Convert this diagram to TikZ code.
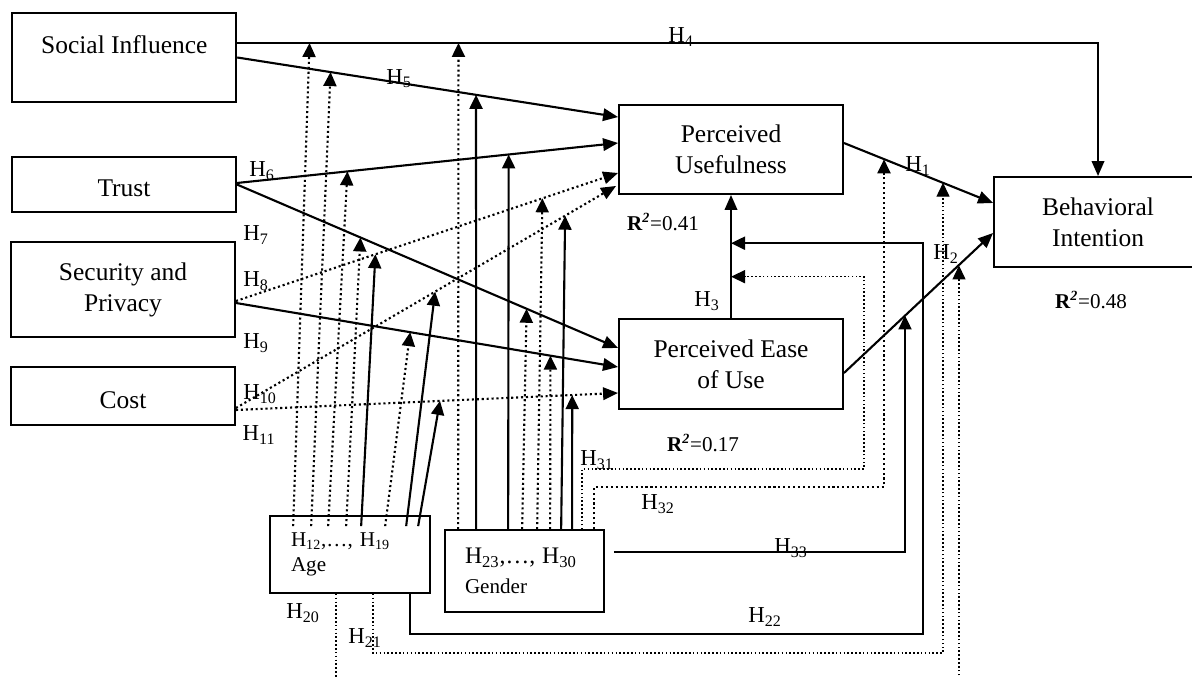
\documentclass[tikz,border=0pt]{standalone}
\usepackage{fontspec}
\setmainfont{Liberation Serif}
\usepackage{tikz}
\usetikzlibrary{
  arrows.meta,
  calc
}

\begin{document}
\begin{tikzpicture}[
  x=0.02cm, y=-0.02cm,
  font=\fontsize{14.5}{17.6}\selectfont,
  factor/.style={
    rectangle,
    draw=black,
    line width=1.1pt,
    minimum width=4.48cm,
    align=center,
    inner sep=0pt
  },
  modbox/.style={
    rectangle,
    draw=black,
    line width=1pt,
    align=left,
    inner xsep=0.42cm,
    inner ysep=0pt
  },
  rel/.style={
    -{Triangle[length=0.3cm, width=0.25cm]},
    line width=1.2pt
  },
  reldot/.style={
    rel,
    dash pattern=on 1.2pt off 1.6pt
  },
  mod/.style={
    -{Triangle[length=0.28cm, width=0.26cm]},
    line width=1.2pt
  },
  moddot/.style={
    mod,
    dash pattern=on 1.2pt off 1.6pt
  },
  thindot/.style={
    mod,
    line width=0.8pt,
    dash pattern=on 0.9pt off 1.3pt
  },
  hlabel/.style={font=\fontsize{13}{15}\selectfont, inner sep=0pt},
  rsq/.style={font=\fontsize{12}{14}\selectfont, inner sep=0pt}
]
\useasboundingbox (0,0) rectangle (1192,678);
\clip (0,0) rectangle (1192,678);

% Antecedents (left column)
\node[factor, minimum height=1.78cm, text height=0.82cm, text depth=0.96cm] (si) at (124.3,57.5) {Social Influence};
\node[factor, minimum height=1.1cm, text height=0.8cm, text depth=0.3cm] (trust) at (124,184.5) {Trust};
\node[factor, minimum height=1.9cm] (sp) at (123,289.5) {Security and\\Privacy};
\node[factor, minimum height=1.16cm, text height=0.84cm, text depth=0.32cm] (cost) at (123,396) {Cost};

% Mediators and outcome (outcome box runs past the right edge)
\node[factor, minimum height=1.78cm] (pu) at (731,149.5) {Perceived\\Usefulness};
\node[factor, minimum height=1.8cm] (peou) at (731,364) {Perceived Ease\\of Use};
\node[factor, minimum width=4.16cm, minimum height=1.8cm] (bi) at (1098,222) {Behavioral\\Intention};

% Moderators
\node[modbox, text width=2.36cm, minimum height=1.54cm, font=\fontsize{12}{14.2}\selectfont] (age) at (350,554.5) {H\textsubscript{12},\ldots, H\textsubscript{19}\\Age};
\node[modbox, text width=2.38cm, inner xsep=0.4cm, minimum height=1.64cm, font=\fontsize{12}{17}\selectfont] (gender) at (524.5,571) {{\fontsize{13.5}{17}\selectfont H\textsubscript{23},\ldots, H\textsubscript{30}}\\Gender};

% End points of the direct paths
\coordinate (h4s) at ($(si.east)+(0,-14.5)$);
\coordinate (h4c) at (bi.north |- h4s);
\coordinate (h5s) at (si.east);
\coordinate (h5e) at ($(pu.north west)+(0,13)$);
\coordinate (h6s) at ($(trust.east)+(0,-1.5)$);
\coordinate (h6e) at ($(pu.west)+(0,-6.5)$);
\coordinate (h7s) at (trust.east);
\coordinate (h7e) at ($(peou.west)+(0,-16)$);
\coordinate (h8s) at ($(sp.east)+(0,11.5)$);
\coordinate (h8e) at ($(pu.west)+(0,23.5)$);
\coordinate (h9s) at ($(sp.east)+(0,13.5)$);
\coordinate (h9e) at ($(peou.west)+(0,3)$);
\coordinate (h10s) at ($(cost.east)+(0,12)$);
\coordinate (h10e) at ($(pu.south west)+(-2,-9)$);
\coordinate (h11s) at ($(cost.east)+(0,14)$);
\coordinate (h11e) at ($(peou.west)+(0,29)$);
\coordinate (h1s) at ($(pu.east)+(0,-6.5)$);
\coordinate (h1e) at ($(bi.west)+(0,-19)$);
\coordinate (h2s) at ($(peou.east)+(0,9)$);
\coordinate (h2e) at ($(bi.west)+(0,11)$);

% Direct paths
\draw[rel] (h4s) -- (h4c) -- (bi.north);
\draw[rel] (h5s) -- (h5e);
\draw[rel] (h6s) -- (h6e);
\draw[rel] (h7s) -- (h7e);
\draw[reldot] (h8s) -- (h8e);
\draw[rel] (h9s) -- (h9e);
\draw[reldot] (h10s) -- (h10e);
\draw[reldot] (h11s) -- (h11e);
\draw[rel] (h1s) -- (h1e);
\draw[rel] (h2s) -- (h2e);
\draw[rel] (peou.north) -- (pu.south);

% Age moderation (H12 ... H19)
\draw[moddot] ($(age.north west)+(24,11)$) -- ($(h4s)!0.084!(h4c)$);
\draw[moddot] ($(age.north west)+(42,11)$) -- ($(h5s)!0.245!(h5e)$);
\draw[moddot] ($(age.north west)+(59,11)$) -- ($(h6s)!0.290!(h6e)$);
\draw[moddot] ($(age.north west)+(77,11)$) -- ($(h7s)!0.324!(h7e)$);
\draw[mod] ($(age.north west)+(92,11)$) -- ($(h8s)!0.365!(h8e)$);
\draw[moddot] ($(age.north west)+(116,11)$) -- ($(h9s)!0.456!(h9e)$);
\draw[mod] ($(age.north west)+(137,11)$) -- ($(h10s)!0.524!(h10e)$);
\draw[mod] ($(age.north west)+(149,11)$) -- ($(h11s)!0.534!(h11e)$);

% Gender moderation (H23 ... H30)
\draw[moddot] ($(gender.north west)+(14,0)$) -- ($(h4s)!0.257!(h4c)$);
\draw[mod] ($(gender.north west)+(32,0)$) -- ($(h5s)!0.627!(h5e)$);
\draw[mod] ($(gender.north west)+(64,0)$) -- ($(h6s)!0.713!(h6e)$);
\draw[moddot] ($(gender.north west)+(78,0)$) -- ($(h7s)!0.760!(h7e)$);
\draw[moddot] ($(gender.north west)+(93,0)$) -- ($(h8s)!0.802!(h8e)$);
\draw[moddot] ($(gender.north west)+(106,0)$) -- ($(h9s)!0.823!(h9e)$);
\draw[mod] ($(gender.north west)+(117,0)$) -- ($(h10s)!0.866!(h10e)$);
\draw[mod] ($(gender.north west)+(128,0)$) -- ($(h11s)!0.880!(h11e)$);

% Moderation of H1, H2, H3
\coordinate (t32) at ($(h1s)!0.272!(h1e)$);
\coordinate (t21) at ($(h1s)!0.662!(h1e)$);
\coordinate (t33) at ($(h2s)!0.411!(h2e)$);
\coordinate (t20) at ($(h2s)!0.768!(h2e)$);
\coordinate (c31) at (864,469);
\coordinate (c32) at (884,487);
\coordinate (c33) at (905,552);
\coordinate (c22) at (923,634);
\coordinate (c21) at (943,653);
\coordinate (c20) at (959,700);

\draw[thindot] ($(gender.north west)+(138,0)$) |- (c31) |- ($(peou.north)!0.336!(pu.south)$);
\draw[moddot] ($(gender.north west)+(150,0)$) |- (c32) -- (c32 |- t32);
\draw[mod] ($(gender.east)+(9,-19)$) -- (c33) -- (c33 |- t33);
\draw[mod] ($(age.south west)+(141,0)$) |- (c22) |- ($(peou.north)!0.608!(pu.south)$);
\draw[thindot] ($(age.south west)+(104,0)$) |- (c21) -- (c21 |- t21);
\draw[thindot] ($(age.south west)+(67,0)$) |- (c20) -- (c20 |- t20);

% Hypothesis labels
\node[hlabel] (l1) at (918,166) {H\textsubscript{1}};
\node[hlabel] (l2) at (946,254) {H\textsubscript{2}};
\node[hlabel] (l3) at (707,301) {H\textsubscript{3}};
\node[hlabel] (l4) at (681,37) {H\textsubscript{4}};
\node[hlabel] (l5) at (399,79) {H\textsubscript{5}};
\node[hlabel] (l6) at (262,171) {H\textsubscript{6}};
\node[hlabel] (l7) at (256,235) {H\textsubscript{7}};
\node[hlabel] (l8) at (256,281) {H\textsubscript{8}};
\node[hlabel] (l9) at (256,343) {H\textsubscript{9}};
\node[hlabel] (l10) at (260,394) {H\textsubscript{10}};
\node[hlabel] (l11) at (259,435) {H\textsubscript{11}};
\node[hlabel] (l20) at (303,613) {H\textsubscript{20}};
\node[hlabel] (l21) at (365,638) {H\textsubscript{21}};
\node[hlabel] (l22) at (765,617) {H\textsubscript{22}};
\node[hlabel] (l31) at (597,460) {H\textsubscript{31}};
\node[hlabel] (l32) at (658,504) {H\textsubscript{32}};
\node[hlabel] (l33) at (791,548) {H\textsubscript{33}};

% Explained variance
\node[rsq] (r1) at (663,222) {\textbf{R\textsuperscript{\textit{2}}}=0.41};
\node[rsq] (r2) at (703,443) {\textbf{R\textsuperscript{\textit{2}}}=0.17};
\node[rsq] (r3) at (1091,300) {\textbf{R\textsuperscript{\textit{2}}}=0.48};

\end{tikzpicture}
\end{document}
